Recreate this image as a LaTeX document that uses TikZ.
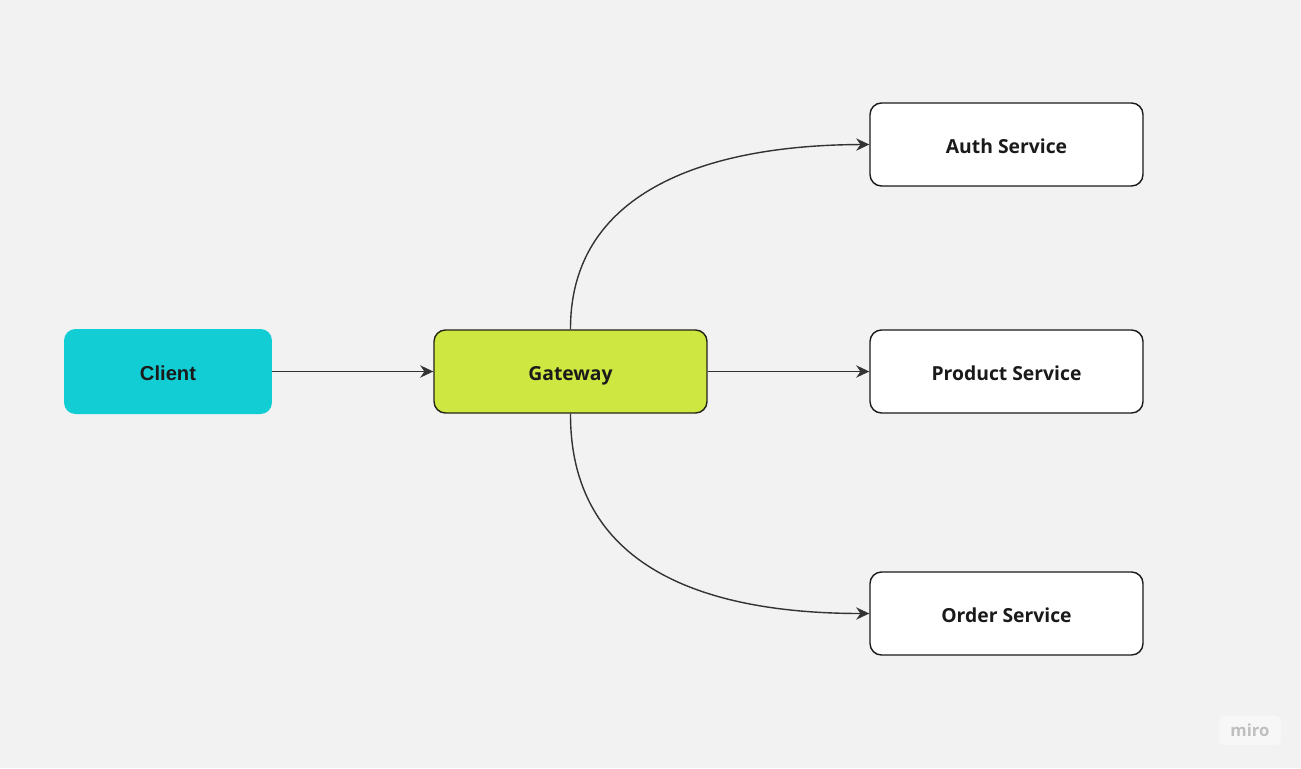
\documentclass[tikz,border=0pt]{standalone}
\usepackage{fontspec}
\setmainfont{Open Sans}
\newfontfamily\clientfont{Liberation Sans}
\usetikzlibrary{arrows.meta}
\definecolor{bg}{HTML}{F2F2F2}
\definecolor{cyanfill}{HTML}{13CDD4}
\definecolor{limefill}{HTML}{CEE741}
\definecolor{edge}{HTML}{333333}
\definecolor{txt}{HTML}{1A1A1A}
\tikzset{
  px/.style={x=0.02cm,y=-0.02cm},
  svcbox/.style={draw=txt, line width=0.8pt, fill=white, rounded corners=6.5pt,
    minimum width=5.46cm, minimum height=1.66cm, inner sep=0pt,
    text height=10.1pt, text depth=0pt,
    font=\fontsize{11}{13}\selectfont\bfseries, text=txt},
  gatebox/.style={svcbox, fill=limefill, draw=txt!90!olive},
  clientbox/.style={fill=cyanfill, rounded corners=6.5pt,
    minimum width=4.16cm, minimum height=1.7cm, inner sep=0pt,
    text height=10.4pt, text depth=0pt,
    font=\clientfont\fontsize{11.5}{13}\selectfont\bfseries, text=txt},
  conn/.style={draw=edge, line width=0.8pt, -{Stealth[length=7.5pt,width=7pt]}},
}
\begin{document}
\begin{tikzpicture}[px]
\fill[bg] (0,0) rectangle (1301,768);
\useasboundingbox (0,0) rectangle (1301,768);
\node[clientbox] (client) at (168,371.5) {Client};
\node[gatebox] (gateway) at (570.5,371.5) {Gateway};
\node[svcbox] (auth) at (1006.5,144.5) {Auth Service};
\node[svcbox] (product) at (1006.5,371.5) {Product Service};
\node[svcbox] (order) at (1006.5,613.5) {Order Service};
\draw[conn] (client.east) -- (gateway.west);
\draw[conn] (gateway.east) -- (product.west);
\draw[conn] (gateway.north) .. controls (570,195) and (700,145) .. (auth.west);
\draw[conn] (gateway.south) .. controls (570,565) and (700,613.5) .. (order.west);
\node[fill=white, fill opacity=0.45, text opacity=1, rounded corners=3pt,
  minimum width=1.24cm, minimum height=0.58cm, inner sep=0pt,
  text=black!25, font=\fontsize{9.5}{10}\selectfont\bfseries] (logo) at (1250,730.5) {miro};
\end{tikzpicture}
\end{document}
